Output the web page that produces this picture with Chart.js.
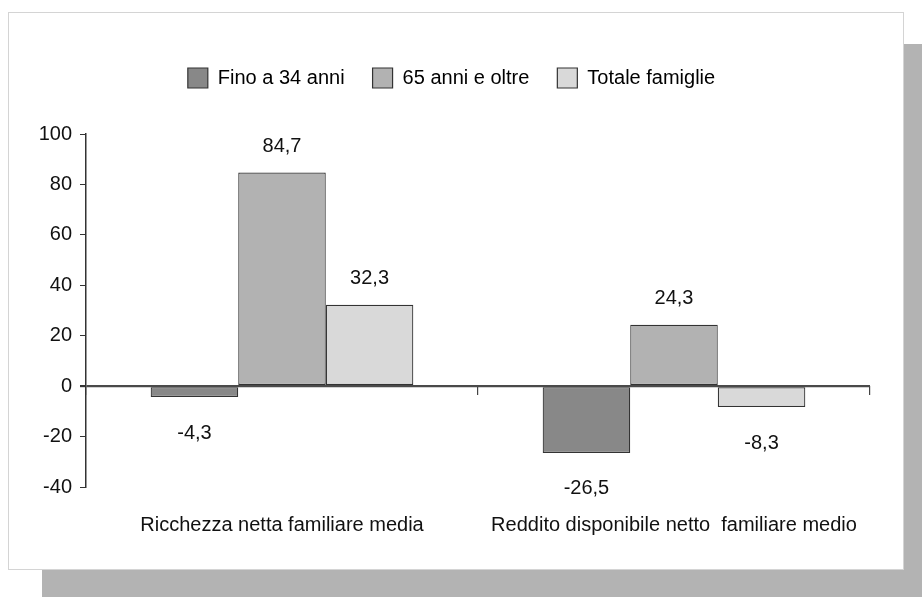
<!DOCTYPE html>
<html>
<head>
<meta charset="utf-8">
<script src="https://cdn.jsdelivr.net/npm/chart.js@4.4.0/dist/chart.umd.min.js"></script>
<style>
  html, body { margin: 0; padding: 0; background: #ffffff; }
  body { width: 922px; height: 597px; position: relative; overflow: hidden; }
  #shadow { position: absolute; left: 42px; top: 44px; width: 880px; height: 553px; background: #b3b3b3; }
  #box { position: absolute; left: 8px; top: 12px; width: 894px; height: 556px; background: #ffffff; border: 1px solid #d4d4d4; }
  canvas { display: block; }
</style>
</head>
<body>
<div id="shadow"></div>
<div id="box"><canvas id="c" width="894" height="556"></canvas></div>
<script>
const categories = ["Ricchezza netta familiare media", "Reddito disponibile netto  familiare medio"];
const seriesNames = ["Fino a 34 anni", "65 anni e oltre", "Totale famiglie"];
const fino34 = [-4.3, -26.5];
const over65 = [84.7, 24.3];
const totale = [32.3, -8.3];
const yTicks = [-40, -20, 0, 20, 40, 60, 80, 100];

const FONT = "'Liberation Sans', Arial, sans-serif";
const FS = 20;
const colors = ["#888888", "#b2b2b2", "#d9d9d9"];
const edge = "#333333";

const valueLabels = {
  id: 'valueLabels',
  afterDatasetsDraw(chart) {
    const ctx = chart.ctx;
    ctx.save();
    ctx.font = FS + "px " + FONT;
    ctx.fillStyle = "#111";
    ctx.textAlign = "center";
    ctx.textBaseline = "middle";
    chart.data.datasets.forEach((ds, i) => {
      const meta = chart.getDatasetMeta(i);
      meta.data.forEach((bar, j) => {
        const v = ds.data[j];
        const txt = v.toFixed(1).replace('.', ',');
        const y = v >= 0 ? bar.y - 26 : bar.y + 36;
        ctx.fillText(txt, bar.x, y);
      });
    });
    ctx.restore();
  }
};

const legendSpace = {
  id: 'legendSpace',
  beforeLayout(chart) {
    const lg = chart.legend;
    if (lg && !lg._patched) {
      const orig = lg.fit.bind(lg);
      lg.fit = function () { orig(); this.height += 36; };
      lg._patched = true;
    }
  },
  afterLayout(chart) {
    const lg = chart.legend;
    if (lg) { lg.left += 12; lg.right += 12; }
  }
};

new Chart(document.getElementById('c'), {
  type: 'bar',
  data: {
    labels: categories,
    datasets: [
      { label: seriesNames[0], data: fino34, backgroundColor: colors[0] },
      { label: seriesNames[1], data: over65, backgroundColor: colors[1] },
      { label: seriesNames[2], data: totale, backgroundColor: colors[2] }
    ].map(d => Object.assign(d, { borderColor: edge, borderWidth: 1.2, borderSkipped: false, categoryPercentage: 0.67, barPercentage: 1.0 }))
  },
  options: {
    responsive: false,
    animation: false,
    layout: { padding: { top: 27, right: 33, left: 0, bottom: 0 } },
    plugins: {
      legend: {
        display: true,
        position: 'top',
        labels: {
          boxWidth: 20, boxHeight: 20, padding: 28,
          color: '#111',
          font: { family: FONT, size: FS },
          generateLabels(chart) {
            return chart.data.datasets.map((ds, i) => ({
              text: ds.label, fillStyle: ds.backgroundColor, strokeStyle: edge,
              lineWidth: 1.2, datasetIndex: i, hidden: false
            }));
          }
        }
      },
      tooltip: { enabled: false }
    },
    scales: {
      x: {
        type: 'category',
        grid: { display: false },
        border: { display: false },
        ticks: { color: '#111', font: { family: FONT, size: FS }, padding: 18, maxRotation: 0, autoSkip: false },
        afterFit(s) { s.height = 82; }
      },
      x2: {
        type: 'category',
        axis: 'x',
        position: { y: 0 },
        labels: categories,
        offset: true,
        border: { display: false },
        grid: { display: true, offset: true, drawOnChartArea: false, drawTicks: true, tickLength: 9, color: '#444', lineWidth: 1.2 },
        ticks: { display: false }
      },
      y: {
        min: -40, max: 100,
        afterBuildTicks(s) { s.ticks = yTicks.map(v => ({ value: v })); },
        border: { display: true, color: '#333', width: 1.5 },
        grid: {
          drawTicks: true, tickLength: 6,
          tickColor: '#333',
          color: (c) => (c.tick && c.tick.value === 0) ? '#4a4a4a' : 'rgba(0,0,0,0)',
          lineWidth: (c) => (c.tick && c.tick.value === 0) ? 2.2 : 1
        },
        ticks: { color: '#111', font: { family: FONT, size: FS }, padding: 8 },
        afterFit(s) { s.width = 77; }
      }
    }
  },
  plugins: [valueLabels, legendSpace]
});
</script>
</body>
</html>
